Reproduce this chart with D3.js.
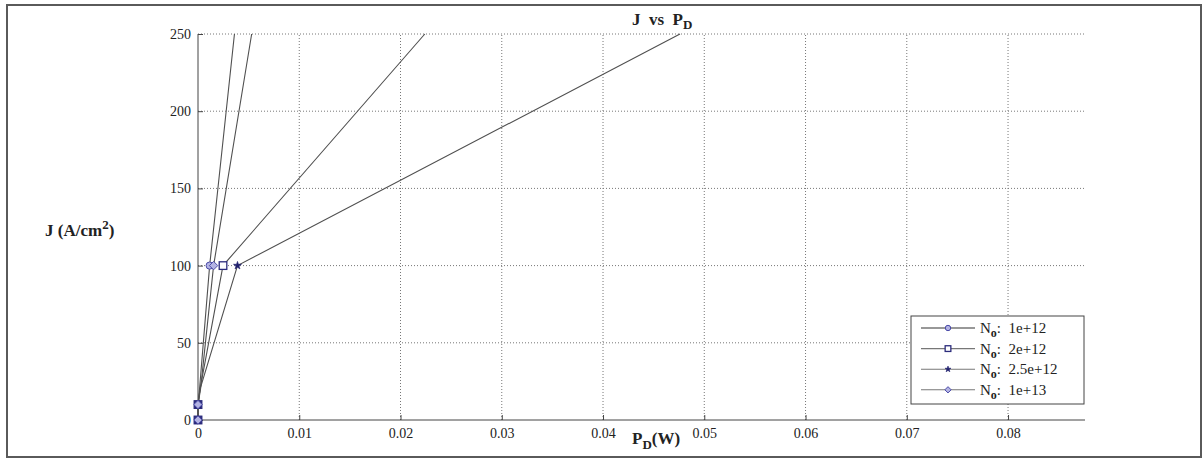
<!DOCTYPE html>
<meta charset="utf-8">
<script src="https://d3js.org/d3.v7.min.js"></script>
<style>
  body { margin: 0; background: #fff; }
  text { font-family: 'Liberation Serif', 'Times New Roman', serif; fill: #222; white-space: pre; }
</style>
<div id="my_dataviz"></div>
<script>
// values
var jValues = [0, 10, 20, 100, 250];          // current density J (A/cm^2)
var pN1e12  = [0, 0, 0.00015, 0.00115, 0.0036];
var pN2e12  = [0, 0, 0.0002, 0.00247, 0.0224];
var pN25e12 = [0, 0, 0.0002, 0.0039, 0.0476];
var pN1e13  = [0, 0, 0.00025, 0.00154, 0.0053];
var markedJ = [0, 10, 100];
var seriesLabels = ["1e+12", "2e+12", "2.5e+12", "1e+13"];
var seriesMarkers = ["circle", "square", "dot", "diamond"];
var xTicks = [0, 0.01, 0.02, 0.03, 0.04, 0.05, 0.06, 0.07, 0.08];
var yTicks = [0, 50, 100, 150, 200, 250];

var width = 1203, height = 459;
var svg = d3.select("#my_dataviz").append("svg")
  .attr("width", width).attr("height", height);

// outer frame of the figure
svg.append("rect")
  .attr("x", 7).attr("y", 5).attr("width", 1194).attr("height", 452)
  .attr("fill", "none").attr("stroke", "#5a5a5a").attr("stroke-width", 2);

var x = d3.scaleLinear().domain([0, 0.0876]).range([198, 1085]);
var y = d3.scaleLinear().domain([0, 250]).range([420, 34]);

// grid
svg.append("g").selectAll("line").data(xTicks.slice(1)).enter().append("line")
  .attr("x1", function(d) { return x(d); }).attr("x2", function(d) { return x(d); })
  .attr("y1", y(0)).attr("y2", y(250))
  .attr("stroke", "#777").attr("stroke-dasharray", "1,2");
svg.append("g").selectAll("line").data(yTicks.slice(1)).enter().append("line")
  .attr("x1", x(0)).attr("x2", x.range()[1])
  .attr("y1", function(d) { return y(d); }).attr("y2", function(d) { return y(d); })
  .attr("stroke", "#777").attr("stroke-dasharray", "1,2");

// axes (ticks pointing inward)
var xAxis = svg.append("g").attr("transform", "translate(0," + y(0) + ")")
  .call(d3.axisTop(x).tickValues(xTicks).tickSize(5).tickFormat(function(d) { return d === 0 ? "0" : d3.format(".2f")(d); }));
xAxis.attr("font-family", null).attr("font-size", null);
xAxis.selectAll("text").attr("y", 18).attr("dy", 0).style("font-size", "14px");
xAxis.select(".domain").attr("d", "M" + x(0) + ",0H" + x.range()[1]);

var yAxis = svg.append("g").attr("transform", "translate(" + x(0) + ",0)")
  .call(d3.axisRight(y).tickValues(yTicks).tickSize(5));
yAxis.attr("font-family", null).attr("font-size", null);
yAxis.selectAll("text").attr("x", -7).attr("text-anchor", "end").style("font-size", "14px");
yAxis.select(".domain").attr("d", "M0," + y(0) + "V" + y(250));
svg.selectAll(".domain").attr("stroke", "#444");
svg.selectAll(".tick line").attr("stroke", "#444");

// series lines
var allSeries = [pN1e12, pN2e12, pN25e12, pN1e13];
var line = d3.line()
  .x(function(d) { return x(d[0]); })
  .y(function(d) { return y(d[1]); });

allSeries.forEach(function(s, i) {
  var pts = s.map(function(p, k) { return [p, jValues[k]]; });
  svg.append("path").datum(pts)
    .attr("d", line).attr("fill", "none")
    .attr("stroke", "#505050").attr("stroke-width", 1.1);
});

function drawMarker(g, kind, cx, cy, sc) {
  sc = sc || 1;
  if (kind === "circle") {
    g.append("circle").attr("cx", cx).attr("cy", cy).attr("r", 3.6 * sc)
      .attr("fill", "#b3b3e3").attr("stroke", "#4a4aa8").attr("stroke-width", 1);
  } else if (kind === "square") {
    g.append("rect").attr("x", cx - 3.8 * sc).attr("y", cy - 3.8 * sc)
      .attr("width", 7.6 * sc).attr("height", 7.6 * sc)
      .attr("fill", "#fff").attr("stroke", "#2c2c7c").attr("stroke-width", 1.3);
  } else if (kind === "dot") {
    g.append("path").attr("d", d3.symbol().type(d3.symbolStar).size(20 * sc * sc)())
      .attr("transform", "translate(" + cx + "," + cy + ")")
      .attr("fill", "#20206e").attr("stroke", "#20206e").attr("stroke-width", 0.6);
  } else {
    var r = 4.2 * sc;
    g.append("path").attr("d", "M0," + (-r) + "L" + r + ",0L0," + r + "L" + (-r) + ",0Z")
      .attr("transform", "translate(" + cx + "," + cy + ")")
      .attr("fill", "#b3b3e3").attr("stroke", "#4a4aa8").attr("stroke-width", 1);
  }
}

// markers
var markerLayer = svg.append("g");
allSeries.forEach(function(s, i) {
  s.forEach(function(p, k) {
    if (markedJ.indexOf(jValues[k]) < 0) return;
    drawMarker(markerLayer, seriesMarkers[i], x(p), y(jValues[k]));
  });
});
// dense dark look of the overlapping markers near the origin
markerLayer.selectAll("rect").filter(function() { return +d3.select(this).attr("y") > y(20); })
  .attr("fill", "#2c2c7c");

// legend
var lg = svg.append("g");
lg.append("rect").attr("x", 911).attr("y", 316).attr("width", 173).attr("height", 88)
  .attr("fill", "#fff").attr("stroke", "#444").attr("stroke-width", 1);
seriesLabels.forEach(function(lab, i) {
  var ly = 328 + i * 20.6;
  lg.append("line").attr("x1", 921).attr("x2", 975).attr("y1", ly).attr("y2", ly)
    .attr("stroke", i === 0 ? "#333" : "#777").attr("stroke-width", 1.1);
  drawMarker(lg, seriesMarkers[i], 948, ly, 0.75);
  var t = lg.append("text").attr("x", 980).attr("y", ly + 5).style("font-size", "15px");
  t.append("tspan").text("N");
  t.append("tspan").attr("dy", 4).style("font-size", "12px").style("font-weight", "bold").text("o");
  t.append("tspan").attr("dy", -4).text(":  " + lab);
});

// title and axis labels
var title = svg.append("text").attr("x", 632).attr("y", 25)
  .style("font-size", "17px").style("font-weight", "bold");
title.append("tspan").text("J  vs  P");
title.append("tspan").attr("dy", 4).style("font-size", "13px").text("D");

var ylab = svg.append("text").attr("x", 45).attr("y", 236)
  .style("font-size", "17px").style("font-weight", "bold");
ylab.append("tspan").text("J (A/cm");
ylab.append("tspan").attr("dy", -7).style("font-size", "13px").text("2");
ylab.append("tspan").attr("dy", 7).text(")");

var xlab = svg.append("text").attr("x", 632).attr("y", 444)
  .style("font-size", "17px").style("font-weight", "bold");
xlab.append("tspan").text("P");
xlab.append("tspan").attr("dy", 5).style("font-size", "13px").text("D");
xlab.append("tspan").attr("dy", -5).text("(W)");
</script>
